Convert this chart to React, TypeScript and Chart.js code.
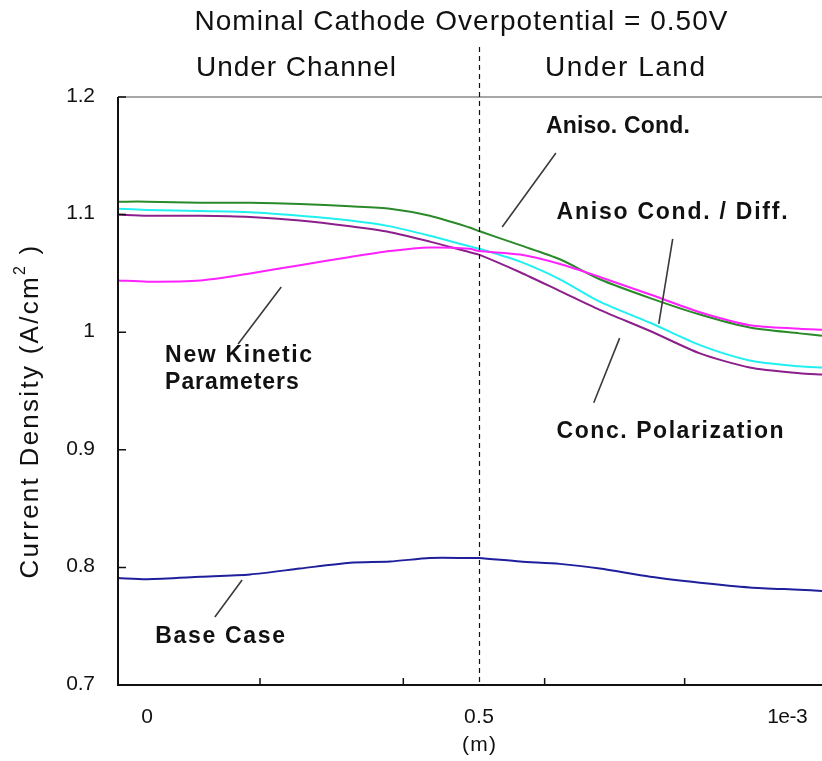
import React, { useEffect, useRef } from "react";
import { Chart, registerables } from "chart.js";

Chart.register(...registerables);

// Position along the cell, in units of 1e-3 m (shared by every series)
const POSITION = [
  -0.044, 0.0, 0.08, 0.155, 0.23, 0.306, 0.366, 0.426, 0.486, 0.5, 0.562,
  0.622, 0.682, 0.758, 0.833, 0.908, 0.983, 1.017,
];

// Current density (A/cm^2) for each case
const ANISO_COND = [
  1.111, 1.111, 1.11, 1.11, 1.109, 1.107, 1.105, 1.099, 1.089, 1.086, 1.074,
  1.062, 1.045, 1.029, 1.015, 1.004, 0.999, 0.997,
];
const ANISO_COND_DIFF = [
  1.105, 1.104, 1.103, 1.102, 1.099, 1.095, 1.09, 1.082, 1.073, 1.071, 1.06,
  1.045, 1.026, 1.008, 0.989, 0.976, 0.971, 0.97,
];
const CONC_POLARIZATION = [
  1.1, 1.099, 1.099, 1.098, 1.095, 1.09, 1.085, 1.077, 1.068, 1.066, 1.051,
  1.035, 1.019, 1.001, 0.982, 0.97, 0.965, 0.964,
];
const NEW_KINETIC = [
  1.044, 1.043, 1.044, 1.05, 1.057, 1.064, 1.069, 1.072, 1.071, 1.069, 1.066,
  1.058, 1.047, 1.032, 1.017, 1.006, 1.003, 1.002,
];
const BASE_CASE = [
  0.791, 0.79, 0.792, 0.794, 0.799, 0.804, 0.805, 0.808, 0.808, 0.808, 0.805,
  0.803, 0.799, 0.792, 0.787, 0.783, 0.781, 0.78,
];

// Axis range and ticks
const X_MIN = -0.044;
const X_MAX = 1.017;
const X_LABEL_VALUES = [0, 0.5, 1];
const X_LABELS = ["0", "0.5", "1e-3"];
const X_MINOR_TICKS = [0.17, 0.386, 0.599, 0.81];
const Y_MIN = 0.7;
const Y_MAX = 1.2;
const Y_TICKS = [0.7, 0.8, 0.9, 1.0, 1.1, 1.2];
const Y_LABELS = ["0.7", "0.8", "0.9", "1", "1.1", "1.2"];
const CHANNEL_EDGE = 0.5;

const FONT = "'Liberation Sans', Arial, sans-serif";
const INK = "#111";

type Note = {
  lines: string[];
  at: [number, number];
  width: number;
  leader: [number, number, number, number];
};

// Callouts: text anchor and leader line, in axis units
const NOTES: Note[] = [
  { lines: ["Aniso. Cond."], at: [0.601, 1.1745], width: 144, leader: [0.616, 1.1524, 0.535, 1.0895] },
  { lines: ["Aniso Cond. / Diff."], at: [0.617, 1.1014], width: 231, leader: [0.792, 1.0793, 0.771, 1.007] },
  { lines: ["New Kinetic", "Parameters"], at: [0.027, 0.9798], width: 147, leader: [0.202, 1.0384, 0.137, 0.99] },
  { lines: ["Conc. Polarization"], at: [0.617, 0.9151], width: 227, leader: [0.712, 0.995, 0.673, 0.94] },
  { lines: ["Base Case"], at: [0.012, 0.7408], width: 130, leader: [0.143, 0.7893, 0.102, 0.7578] },
];

function fitText(
  ctx: CanvasRenderingContext2D,
  s: string,
  x: number,
  y: number,
  font: string,
  width: number,
  align: CanvasTextAlign = "left"
) {
  ctx.save();
  ctx.font = font;
  (ctx as any).letterSpacing = "0px";
  const w = ctx.measureText(s).width;
  const sp = Math.max(-0.5, Math.min(4, (width - w) / Math.max(1, s.length - 1)));
  (ctx as any).letterSpacing = `${sp}px`;
  const total = w + sp * (s.length - 1);
  let left = x;
  if (align === "center") left = x - total / 2;
  else if (align === "right") left = x - total;
  ctx.textAlign = "left";
  ctx.textBaseline = "middle";
  ctx.fillStyle = INK;
  ctx.fillText(s, left, y);
  ctx.restore();
}

// Rotated axis title with a superscript exponent, stretched to a given length
function drawYTitle(ctx: CanvasRenderingContext2D, cx: number, cy: number, length: number) {
  const main = "Current Density (A/cm";
  const sup = "2";
  const tail = " )";
  const big = `26px ${FONT}`;
  const small = `16px ${FONT}`;
  ctx.save();
  (ctx as any).letterSpacing = "0px";
  ctx.font = big;
  const m0 = ctx.measureText(main).width;
  const t0 = ctx.measureText(tail).width;
  ctx.font = small;
  const s0 = ctx.measureText(sup).width;
  const chars = main.length + sup.length + tail.length;
  const sp = Math.max(0, (length - (m0 + s0 + t0)) / chars);
  (ctx as any).letterSpacing = `${sp}px`;
  ctx.translate(cx, cy);
  ctx.rotate(-Math.PI / 2);
  ctx.fillStyle = INK;
  ctx.textBaseline = "middle";
  ctx.textAlign = "left";
  let x0 = -length / 2;
  ctx.font = big;
  ctx.fillText(main, x0, 0);
  x0 += m0 + sp * main.length;
  ctx.font = small;
  ctx.fillText(sup, x0, -10);
  x0 += s0 + sp;
  ctx.font = big;
  ctx.fillText(tail, x0, 0);
  ctx.restore();
}

const frame = {
  id: "frame",
  afterDatasetsDraw(chart: any) {
    const { ctx, chartArea: a, scales } = chart;
    const xs = scales.x;
    const ys = scales.y;
    ctx.save();
    // top border
    ctx.strokeStyle = "#8a8a8a";
    ctx.lineWidth = 1.5;
    ctx.beginPath();
    ctx.moveTo(a.left, a.top);
    ctx.lineTo(a.right, a.top);
    ctx.stroke();
    // left and bottom axes
    ctx.strokeStyle = "#111";
    ctx.lineWidth = 2;
    ctx.beginPath();
    ctx.moveTo(a.left, a.top);
    ctx.lineTo(a.left, a.bottom);
    ctx.lineTo(a.right, a.bottom);
    ctx.stroke();
    // inward tick marks
    ctx.lineWidth = 1.5;
    ctx.beginPath();
    for (const v of Y_TICKS) {
      const py = ys.getPixelForValue(v);
      ctx.moveTo(a.left, py);
      ctx.lineTo(a.left + 8, py);
    }
    for (const v of X_MINOR_TICKS) {
      const px = xs.getPixelForValue(v);
      ctx.moveTo(px, a.bottom);
      ctx.lineTo(px, a.bottom - 7);
    }
    ctx.stroke();
    // channel / land boundary
    const bx = Math.round(xs.getPixelForValue(CHANNEL_EDGE)) + 0.5;
    ctx.lineWidth = 1.2;
    ctx.setLineDash([5, 4]);
    ctx.beginPath();
    ctx.moveTo(bx, 47);
    ctx.lineTo(bx, a.bottom);
    ctx.stroke();
    ctx.setLineDash([]);
    // leader lines
    ctx.strokeStyle = "#3a3a3a";
    ctx.lineWidth = 1.6;
    ctx.beginPath();
    for (const n of NOTES) {
      const [x1, y1, x2, y2] = n.leader;
      ctx.moveTo(xs.getPixelForValue(x1), ys.getPixelForValue(y1));
      ctx.lineTo(xs.getPixelForValue(x2), ys.getPixelForValue(y2));
    }
    ctx.stroke();
    ctx.restore();
  },
  afterDraw(chart: any) {
    const { ctx, scales } = chart;
    const xs = scales.x;
    const ys = scales.y;
    // tick labels
    Y_TICKS.forEach((v, i) => {
      fitText(ctx, Y_LABELS[i], 95, ys.getPixelForValue(v) - 1, `21px ${FONT}`, Y_LABELS[i].length * 9.6, "right");
    });
    X_LABEL_VALUES.forEach((v, i) => {
      const last = i === X_LABEL_VALUES.length - 1;
      fitText(
        ctx,
        X_LABELS[i],
        xs.getPixelForValue(v) - (last ? 3 : 0),
        717,
        `21px ${FONT}`,
        X_LABELS[i].length * 10,
        last ? "right" : "center"
      );
    });
    // titles
    fitText(ctx, "Nominal Cathode Overpotential = 0.50V", 461, 22, `28px ${FONT}`, 533, "center");
    fitText(ctx, "Under Channel", 296, 68, `28px ${FONT}`, 200, "center");
    fitText(ctx, "Under Land", 625, 68, `28px ${FONT}`, 160, "center");
    fitText(ctx, "(m)", xs.getPixelForValue(CHANNEL_EDGE), 745, `21px ${FONT}`, 34, "center");
    drawYTitle(ctx, 31, 411, 335);
    // callouts
    for (const n of NOTES) {
      const px = xs.getPixelForValue(n.at[0]);
      const py = ys.getPixelForValue(n.at[1]);
      n.lines.forEach((line, i) => {
        const w = n.lines.length > 1 ? (line.length / n.lines[0].length) * n.width : n.width;
        fitText(ctx, line, px, py + i * 27, `bold 23px ${FONT}`, w, "left");
      });
    }
  },
};

function series(values: number[]) {
  return POSITION.map((x, i) => ({ x, y: values[i] }));
}

export default function App() {
  const ref = useRef<HTMLCanvasElement | null>(null);
  useEffect(() => {
    if (!ref.current) return;
    const line = (label: string, values: number[], color: string) => ({
      label,
      data: series(values),
      borderColor: color,
      backgroundColor: color,
      borderWidth: 2,
      pointRadius: 0,
      tension: 0.25,
      fill: false,
    });
    const chart = new Chart(ref.current, {
      type: "line",
      data: {
        datasets: [
          line("Base Case", BASE_CASE, "#1f1f9c"),
          line("New Kinetic Parameters", NEW_KINETIC, "#ff22ff"),
          line("Conc. Polarization", CONC_POLARIZATION, "#8c1f8c"),
          line("Aniso Cond. / Diff.", ANISO_COND_DIFF, "#22f0f0"),
          line("Aniso. Cond.", ANISO_COND, "#2a8a2a"),
        ],
      },
      options: {
        responsive: false,
        animation: false,
        layout: { padding: { top: 97, right: 0, left: 0, bottom: 0 } },
        plugins: {
          legend: { display: false },
          tooltip: { enabled: false },
          title: { display: false },
        },
        scales: {
          x: {
            type: "linear",
            min: X_MIN,
            max: X_MAX,
            grid: { display: false, drawTicks: false },
            border: { display: false },
            ticks: { display: false },
            afterFit: (s: any) => {
              s.height = 76;
            },
          },
          y: {
            type: "linear",
            min: Y_MIN,
            max: Y_MAX,
            grid: { display: false, drawTicks: false },
            border: { display: false },
            ticks: { display: false, stepSize: 0.1 },
            afterFit: (s: any) => {
              s.width = 118;
            },
          },
        },
      },
      plugins: [frame],
    });
    return () => chart.destroy();
  }, []);
  return (
    <div style={{ position: "absolute", left: 0, top: 0, width: 822, height: 761, background: "#fff" }}>
      <canvas ref={ref} width={822} height={761} style={{ display: "block" }} />
    </div>
  );
}
